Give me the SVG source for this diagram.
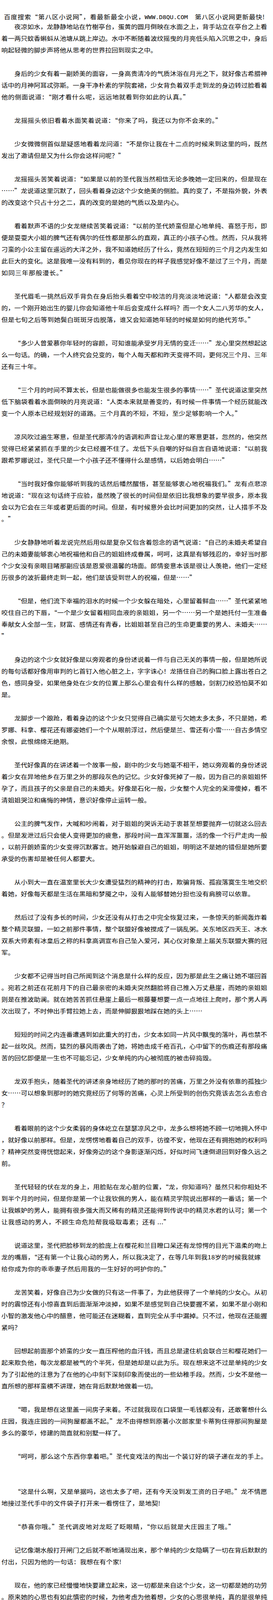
<svg xmlns="http://www.w3.org/2000/svg" width="700" height="4460" viewBox="0 0 700 4460">
<style>
.t{font-family:"Noto Sans CJK SC","Noto Sans CJK JP",sans-serif;font-size:15px;fill:#000}
.m{font-family:"DejaVu Sans Mono","Liberation Mono",monospace;font-size:14px;fill:#000}
</style>
<rect width="700" height="4460" fill="#fff"/>
<g transform="scale(1.108 1)" lengthAdjust="spacing">
<g id="header">
<text class="t" x="8.94" y="49" textLength="325.7">百度搜索“第八区小说网”，看最新最全小说，</text>
<text class="m" x="334.7" y="49" textLength="100">WWW.D8QU.COM</text>
<text class="t" x="451" y="49" textLength="161.2">第八区小说网更新最快!</text>
</g>
<g id="p1">
<text class="t" x="33.21" y="74" textLength="585">夜凉如水，龙静静地站在竹榭亭台，蛋黄的圆月倒映在水面之上，背手站立在亭台之上看</text>
<text class="t" x="3.25" y="104" textLength="615">着一两只蚊香蝌蚪从池塘从跳上岸边。水中不断随着波纹摇曳的月亮低头陷入沉思之中，身后</text>
<text class="t" x="3.25" y="134" textLength="360">响起轻微的脚步声将他从思考的世界拉回到现实之中。</text>
</g>
<g id="p2">
<text class="t" x="33.21" y="194" textLength="585">身后的少女有着一副娇美的面容，一身高贵清冷的气质沐浴在月光之下，就好像古希腊神</text>
<text class="t" x="3.25" y="224" textLength="615">话中的月神阿耳忒弥斯。一身干净朴素的学院套裙，少女背负着双手走到龙的身边转过脸看着</text>
<text class="t" x="3.25" y="254" textLength="435">他的侧面说道：“刚才看什么呢，远远地就看到你如此的认真。”</text>
</g>
<g id="p3">
<text class="t" x="33.21" y="314" textLength="480">龙摇摇头依旧看着水面笑着说道：“你来了吗，我还以为你不会来的。”</text>
</g>
<g id="p4">
<text class="t" x="33.21" y="374" textLength="585">少女微微侧首似是疑惑地看着龙问道：“不是你让我在十二点的时候来到这里的吗，既然</text>
<text class="t" x="3.25" y="404" textLength="285">发出了邀请但是又为什么你会这样问呢？”</text>
</g>
<g id="p5">
<text class="t" x="33.21" y="464" textLength="585">龙摇摇头苦笑着说道：“如果是以前的圣代我当然相信无论多晚她一定回来的，但是现在</text>
<text class="t" x="3.25" y="494" textLength="615">……”龙说道这里沉默了，回头看着身边这个少女绝美的侧脸。真的变了，不是指外貌，外表</text>
<text class="t" x="3.25" y="524" textLength="420">的改变这个只占十分之二，真的改变的是她的气质以及是内心。</text>
</g>
<g id="p6">
<text class="t" x="33.21" y="584" textLength="585">看着默声不语的少女龙继续苦笑着说道：“以前的圣代娇蛮但是心地单纯、喜怒于形，即</text>
<text class="t" x="3.25" y="614" textLength="615">便是耍耍大小姐的脾气还有偶尔的任性都是那么的直观，真正的小孩子心性。然而，只从我将</text>
<text class="t" x="3.25" y="644" textLength="615">刁蛮的小公主留在遥远的大洋之外，我不知道她经历了什么，竟然在短短的三个月之内发生如</text>
<text class="t" x="3.25" y="674" textLength="615">此巨大的变化。这是我唯一没有料到的，看见你现在的样子我感觉好像不是过了三个月，而是</text>
<text class="t" x="3.25" y="704" textLength="150">如同三年那般漫长。”</text>
</g>
<g id="p7">
<text class="t" x="33.21" y="764" textLength="585">圣代眉毛一挑然后双手背负在身后抬头看着空中皎洁的月亮淡淡地说道：“人都是会改变</text>
<text class="t" x="3.25" y="794" textLength="615">的，一个刚开始出生的婴儿你会知道他十年后会变成什么样吗？而一个女人二八芳华的女人，</text>
<text class="t" x="3.25" y="824" textLength="585">但是七旬之后等到她鬓白斑斑牙齿脱落，谁又会知道她年轻的时候是如何的绝代芳华。”</text>
</g>
<g id="p8">
<text class="t" x="33.21" y="884" textLength="585">“多少人曾爱慕你年轻时的容颜，可知谁能承受岁月无情的变迁……”龙心里突然想起这</text>
<text class="t" x="3.25" y="914" textLength="615">么一句话。的确，一个人终究会兑变的，每个人每天都和昨天变得不同，更何况三个月、三年</text>
<text class="t" x="3.25" y="944" textLength="90">还有三十年。</text>
</g>
<g id="p9">
<text class="t" x="33.21" y="1004" textLength="585">“三个月的时间不算太长，但是也能做很多也能发生很多的事情……”圣代说道这里突然</text>
<text class="t" x="3.25" y="1034" textLength="615">低下脑袋看着水面倒映的月亮说道：“人类本来就是善变的，有时候一件事情一个经历就能改</text>
<text class="t" x="3.25" y="1064" textLength="555">变一个人原本已经规划好的道路。三个月真的不短，不短，至少足够影响一个人。”</text>
</g>
<g id="p10">
<text class="t" x="33.21" y="1124" textLength="585">凉风吹过遍生寒意，但是圣代那清冷的语调和声音让龙心里的寒意更甚，忽然的，他突然</text>
<text class="t" x="3.25" y="1154" textLength="615">觉得已经紧紧抓在手里的少女已经握不住了。龙低下头自嘲的好似自言自语地说道：“以前我</text>
<text class="t" x="3.25" y="1184" textLength="525">跟希罗娜说过，圣代只是一个小孩子还不懂得什么是感情，以后她会明白……”</text>
</g>
<g id="p11">
<text class="t" x="33.21" y="1244" textLength="585">“当时我好像你能够听到我的话然后幡然醒悟，甚至能够衷心地祝福我们。”龙有点悲凉</text>
<text class="t" x="3.25" y="1274" textLength="615">地说道：“现在这句话终于应验，虽然晚了很长的时间但是依旧比我想象的要早很多，原本我</text>
<text class="t" x="3.25" y="1304" textLength="615">会以为它会在三年或者更后面的时间。但是，有时候意外会比时间更加的突然，让人措手不及</text>
<text class="t" x="3.25" y="1334" textLength="30">。”</text>
</g>
<g id="p12">
<text class="t" x="33.21" y="1394" textLength="585">少女静静地听着龙说完然后用似是复杂又包含着怨念的语气说道：“自己的未婚夫希望自</text>
<text class="t" x="3.25" y="1424" textLength="615">己的未婚妻能够衷心地祝福他和自己的姐姐终成眷属，呵呵，这真是有够残忍的，幸好当时那</text>
<text class="t" x="3.25" y="1454" textLength="615">个少女没有亲眼目睹那副应该是恩爱很温馨的场面。郎情妾意本该是很让人羡艳，他们一定经</text>
<text class="t" x="3.25" y="1484" textLength="450">历很多的波折最终走到一起，他们是该受到世人的祝福，但是……”</text>
</g>
<g id="p13">
<text class="t" x="33.21" y="1544" textLength="585">“但是，他们流下幸福的泪水的时候一个少女躲在暗处，心里留着鲜血……”圣代紧紧地</text>
<text class="t" x="3.25" y="1574" textLength="615">咬住自己的下唇，“一个是少女留着相同血液的亲姐姐，另一个……另一个是她托付一生准备</text>
<text class="t" x="3.25" y="1604" textLength="615">奉献女人全部一生，财富、感情还有青春，比姐姐甚至自己的生命更重要的男人、未婚夫……</text>
<text class="t" x="3.25" y="1634">”</text>
</g>
<g id="p14">
<text class="t" x="33.21" y="1694" textLength="585">身边的这个少女就好像是以旁观者的身份述说着一件与自己无关的事情一般，但是她所说</text>
<text class="t" x="3.25" y="1724" textLength="615">的每句话都好像用审判的匕首钉入他心脏之上，字字诛心！龙捂住自己的胸口脸上露出苍白之</text>
<text class="t" x="3.25" y="1754" textLength="615">色，感同身受，如果他身处在少女的位置上那么心里会有什么样的感触，剑割刀绞恐怕莫不如</text>
<text class="t" x="3.25" y="1784" textLength="30">是。</text>
</g>
<g id="p15">
<text class="t" x="33.21" y="1844" textLength="585">龙脚步一个踉跄，看着身边的这个少女只觉得自己确实是亏欠她太多太多，不只是她，希</text>
<text class="t" x="3.25" y="1874" textLength="615">罗娜、科拿、樱花还有娜姿她们一个个从眼前浮过，然后便是兰、雪还有小雪……自古多情空</text>
<text class="t" x="3.25" y="1904" textLength="165">余恨，此恨绵绵无绝期。</text>
</g>
<g id="p16">
<text class="t" x="33.21" y="1964" textLength="585">圣代好像真的在讲述着一个故事一般，剧中的少女与她毫不相干，她以旁观着的身份述说</text>
<text class="t" x="3.25" y="1994" textLength="615">着少女在异地他乡在万里之外的那段灰色的记忆。少女好像死掉了一般，因为自己的亲姐姐怀</text>
<text class="t" x="3.25" y="2024" textLength="615">孕了，而且孩子的父亲是自己的未婚夫。好像是石化一般，少女整个人完全的呆滞傻掉，看不</text>
<text class="t" x="3.25" y="2054" textLength="345">清姐姐哭泣和痛悔的神情，意识好像停止运转一般。</text>
</g>
<g id="p17">
<text class="t" x="33.21" y="2114" textLength="585">公主的脾气发作，大喊和吵闹着，对于姐姐的哭诉无动于衷甚至想要抛弃一切就这么回去</text>
<text class="t" x="3.25" y="2144" textLength="615">。但是发泄过后只会使人变得更加的疲惫，那段时间一直浑浑噩噩，活的像一个行尸走肉一般</text>
<text class="t" x="3.25" y="2174" textLength="615">，以前开朗娇蛮的少女变得沉默寡言。她开始躲避自己的姐姐，明明这不是她的错但是她所要</text>
<text class="t" x="3.25" y="2204" textLength="225">承受的伤害却是被任何人都要大。</text>
</g>
<g id="p18">
<text class="t" x="33.21" y="2264" textLength="585">从小到大一直在温室里长大少女遭受猛烈的精神的打击，欺骗背叛、孤寂落寞生生地交织</text>
<text class="t" x="3.25" y="2294" textLength="585">着她，好像每天都是生活在黑暗和梦魇之中，没有人能够替她分担也没有肩膀可以依靠。</text>
</g>
<g id="p19">
<text class="t" x="33.21" y="2354" textLength="585">然后过了没有多长的时间，少女还没有从打击之中完全恢复过来，一条惊天的新闻轰炸着</text>
<text class="t" x="3.25" y="2384" textLength="615">整个精灵联盟，一如之前那件事情，整个联盟好像被搅成了一锅乱粥。关东地区四天王、冰水</text>
<text class="t" x="3.25" y="2414" textLength="615">双系大师素有冰皇后之称的科拿高调宣布自己坠入爱河，其心仪对象是上届关东联盟大赛的冠</text>
<text class="t" x="3.25" y="2444" textLength="30">军。</text>
</g>
<g id="p20">
<text class="t" x="33.21" y="2504" textLength="585">少女都不记得当时自己所闻到这个消息是什么样的反应，因为那是此生之痛让她不堪回首</text>
<text class="t" x="3.25" y="2534" textLength="615">。宛若之前还在花前月下的自己最亲密的未婚夫突然翻脸将自己推入万丈悬崖，而她的亲姐姐</text>
<text class="t" x="3.25" y="2564" textLength="615">则是在推波助澜。就在她苦苦抓住悬崖上最后一根藤蔓想要一点一点地往上爬时，那个男人再</text>
<text class="t" x="3.25" y="2594" textLength="465">次出现了，不时伸出手臂拉她上去，而是伸脚狠狠地踩在她的头上……</text>
</g>
<g id="p21">
<text class="t" x="33.21" y="2654" textLength="585">短短的时间之内连番遭遇到如此重大的打击，少女本如同一片风中飘曳的落叶，再也禁不</text>
<text class="t" x="3.25" y="2684" textLength="615">起一丝吹风。然而，猛烈的暴风雨袭击了她，将她击成千疮百孔，心中留下的伤痕还有那段痛</text>
<text class="t" x="3.25" y="2714" textLength="495">苦的回忆即便是一生也不可能忘记，少女单纯的内心被彻底的被击碎捣毁。</text>
</g>
<g id="p22">
<text class="t" x="33.21" y="2774" textLength="585">龙双手抱头，随着圣代的讲述亲身地经历了她的那时的苦痛，万里之外没有依靠的孤独少</text>
<text class="t" x="3.25" y="2804" textLength="615">女……可以想象到那时的她究竟经历了何等的苦痛，心灵上所受到的创伤究竟该去怎么去愈合</text>
<text class="t" x="3.25" y="2834">？</text>
</g>
<g id="p23">
<text class="t" x="33.21" y="2894" textLength="585">看着眼前的这个少女柔弱的身体屹立在瑟瑟凉风之中，龙多么想将她不顾一切地拥入怀中</text>
<text class="t" x="3.25" y="2924" textLength="615">，就好像以前那样。但是，龙愣愣地看着自己的双手，彷徨不安，他现在还有拥抱她的权利吗</text>
<text class="t" x="3.25" y="2954" textLength="615">？精神突然变得恍惚起来，好像旁边的这个身影逐渐闪烁，好似时间飞速倒退回到好像久远之</text>
<text class="t" x="3.25" y="2984" textLength="30">前。</text>
</g>
<g id="p24">
<text class="t" x="33.21" y="3044" textLength="585">圣代轻轻的伏在龙的身上，用脸贴在龙心脏的位置，“龙，你知道吗？虽然只和你相处不</text>
<text class="t" x="3.25" y="3074" textLength="615">到半个月的时间，但是你是第一个让我钦佩的男人，能在精灵学院说出那样的一番话；第一个</text>
<text class="t" x="3.25" y="3104" textLength="615">让我嫉妒的男人，能拥有很多强大而又稀有的精灵还能得到传说中的精灵水君的认可；第一个</text>
<text class="t" x="3.25" y="3134" textLength="390">让我感动的男人，不顾生命危险帮我吸取毒素；还有 ...”</text>
</g>
<g id="p25">
<text class="t" x="33.21" y="3194" textLength="585">说道这里，圣代把脸移到龙的脸庞上在樱花和兰目瞪口呆还有龙惊愕的目光下温柔的吻上</text>
<text class="t" x="3.25" y="3224" textLength="600">龙的嘴唇，“还有第一个让我心动的男人，所以我决定了，在等几年到我18岁的时候我就嫁</text>
<text class="t" x="3.25" y="3254" textLength="390">给你成为你的乖乖妻子然后用我的一生好好的呵护你的。”</text>
</g>
<g id="p26">
<text class="t" x="33.21" y="3314" textLength="585">龙苦笑着，好像自己为少女做的只有这一件事了，为此他获得了一个单纯的少女心。从初</text>
<text class="t" x="3.25" y="3344" textLength="615">时的震惊还有小惊喜直到后面渐渐冲淡掉，如果不是感觉到自己快要握不紧，如果不是小刚和</text>
<text class="t" x="3.25" y="3374" textLength="615">小智的激发他心中的醋意，他可能还在迷糊着，直到完全从手中漏掉。只不过，他现在还能握</text>
<text class="t" x="3.25" y="3404" textLength="45">紧吗？</text>
</g>
<g id="p27">
<text class="t" x="33.21" y="3464" textLength="585">回想起前面那个娇蛮的少女一直压榨他的血汗钱，而且总是逮住机会联合兰和樱花她们一</text>
<text class="t" x="3.25" y="3494" textLength="615">起来欺负他，每次龙都是被气的个半死，但是她却是以此为乐。现在想来这不过是单纯的少女</text>
<text class="t" x="3.25" y="3524" textLength="615">为了引起他的注意为了在他的心中刻下深刻印象而使出的一些幼稚手段。然而，少女不是他一</text>
<text class="t" x="3.25" y="3554" textLength="360">直所想的那样蛮横不讲理，她在背后默默地做着一切。</text>
</g>
<g id="p28">
<text class="t" x="33.21" y="3614" textLength="585">“嗯，我是想在这里盖一间房子来着。不过就我现在口袋里一毛钱都没有，还敢奢想什么</text>
<text class="t" x="3.25" y="3644" textLength="615">庄园，我连庄园的一间狗屋都盖不起。”龙不由得想到原著小次郎家里卡蒂狗住得那间狗屋是</text>
<text class="t" x="3.25" y="3674" textLength="285">多么的豪华，修建的简直就和别墅一样了。</text>
</g>
<g id="p29">
<text class="t" x="33.21" y="3734" textLength="585">“呵呵，那么这个东西你拿着吧。”圣代变戏法的掏出一个装订好的袋子递在龙的手上。</text>
</g>
<g id="p30">
<text class="t" x="33.21" y="3824" textLength="585">“这是什么啊，又是单据吗，这也太多了吧，还有今天没到发工资的日子吧。”龙不情愿</text>
<text class="t" x="3.25" y="3854" textLength="367.5">地接过圣代手中的文件袋子打开来一看愣住了，是地契!</text>
</g>
<g id="p31">
<text class="t" x="33.21" y="3914" textLength="510">“恭喜你哦。”圣代调皮地对龙眨了眨眼睛，“你以后就是大庄园主了哦。”</text>
</g>
<g id="p32">
<text class="t" x="33.21" y="3974" textLength="585">记忆像潮水般打开闸门之后就不断地涌现出来，那个单纯的少女隐瞒了一切在背后默默的</text>
<text class="t" x="3.25" y="4004" textLength="277.5">付出，只因为他的一句话：我想在有个家!</text>
</g>
<g id="p33">
<text class="t" x="33.21" y="4064" textLength="585">现在，他的家已经慢慢地快要建立起来，这一切都是来自这个少女，这一切都是她的功劳</text>
<text class="t" x="3.25" y="4094" textLength="615">。原来她的心思也有如此慎密的时候，为他考虑为他着想，少女的心思很单纯，真的是很单纯</text>
<text class="t" x="3.25" y="4124" textLength="30">……</text>
</g>
<g id="p34">
<text class="t" x="33.21" y="4184" textLength="585">“你安排的？”龙慢慢把心平静下来，但是小心肝还是扑通扑通直跳，不敢置信道，“这</text>
<text class="t" x="3.25" y="4214" textLength="187.5">庄园是你为3.5我修建的？”</text>
</g>
<g id="p35">
<text class="t" x="33.21" y="4274" textLength="585">“是啊。”圣代歪着脑袋，“不是为你修建的还能有谁，你不是想在这里安个家吗，现在</text>
<text class="t" x="3.25" y="4304" textLength="615">可不就有了。嗯，先修建别墅，估计七八个月就能完工住进去，然后其它的在慢慢地来哦。有</text>
<text class="t" x="3.25" y="4334" textLength="195">湖泊，有草场还有树林……”</text>
</g>
<g id="p36">
<text class="t" x="33.21" y="4394" textLength="480">“等等，等等。”龙连忙打断圣代，“你先别忙，我还有好多问题要问。</text>
</g>
<g id="footer">
<text class="t" x="8.94" y="4426" textLength="325.7">百度搜索“第八区小说网”，看最新最全小说，</text>
<text class="m" x="334.7" y="4426" textLength="100">WWW.D8QU.COM</text>
<text class="t" x="451" y="4426" textLength="161.2">第八区小说网更新最快!</text>
</g>
</g>
</svg>
